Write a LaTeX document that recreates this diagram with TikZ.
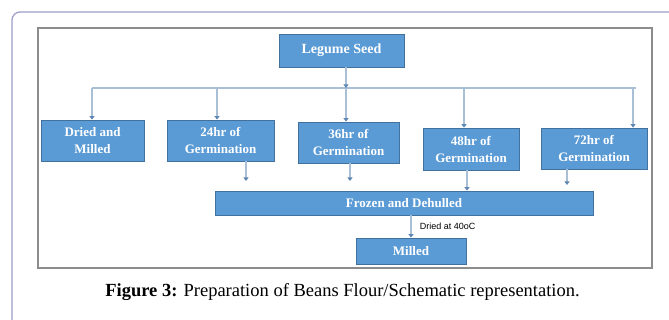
\documentclass[tikz,border=0pt]{standalone}
\usepackage{fontspec}
\setmainfont{Liberation Serif}
\newfontfamily\notefont{Liberation Sans}
\usetikzlibrary{arrows.meta}
\definecolor{boxfill}{HTML}{5B9BD5}
\definecolor{boxline}{HTML}{41719C}
\definecolor{linkline}{HTML}{A9BFD5}
\definecolor{tipcol}{HTML}{5F87B3}
\definecolor{pageframe}{HTML}{9B9BCB}
\definecolor{figframe}{HTML}{8C8C8C}
\tikzset{
  stage/.style={draw=boxline, fill=boxfill, text=white, align=center,
    inner sep=0pt, line width=0.8pt,
    font=\fontsize{13}{17}\selectfont\bfseries},
  link/.style={draw=linkline, line width=1.2pt,
    -{Triangle[width=5pt,length=3.5pt,color=tipcol]}},
  bar/.style={draw=linkline, line width=1.2pt},
}
\begin{document}
\begin{tikzpicture}[x=1pt,y=-1pt]
  \useasboundingbox (0,0) rectangle (669,320);
  \clip (0,0) rectangle (669,320);
  \draw[pageframe, line width=1.2pt, rounded corners=8pt] (12,12) rectangle (700,350);
  \draw[figframe, line width=1.5pt] (38,28) rectangle (652,268);
  \draw
    (341.5,50.5) node[stage, minimum width=125pt, minimum height=33pt,
      font=\fontsize{14}{17}\selectfont\bfseries] (seed){Legume Seed}
    (92.5,140.5) node[stage, minimum width=103pt, minimum height=41pt] (dried){Dried and\\Milled}
    (220.5,140.5) node[stage, minimum width=107pt, minimum height=41pt] (g24){24hr of\\Germination}
    (348.5,142.5) node[stage, minimum width=101pt, minimum height=41pt] (g36){36hr of\\Germination}
    (471,149) node[stage, minimum width=96pt, minimum height=42pt] (g48){48hr of\\Germination}
    (594,148.5) node[stage, minimum width=106pt, minimum height=41pt] (g72){72hr of\\Germination}
    (404,203) node[stage, minimum width=378pt, minimum height=24pt] (frozen){Frozen and Dehulled}
    (411,251) node[stage, minimum width=110pt, minimum height=26pt] (milled){Milled}
    (342.5,292) node[font=\fontsize{18.5}{22}\selectfont] (caption){\textbf{Figure 3:} Preparation of Beans Flour/Schematic representation.};
  \coordinate (bL) at (92,88);
  \coordinate (bR) at (636,88);
  \coordinate (hub) at (346,88);
  \coordinate (d24) at (217,88);
  \coordinate (d48) at (464,88);
  \coordinate (d72) at (633,88);
  \coordinate (u24) at (246,181);
  \coordinate (u36) at (350,181);
  \coordinate (u48) at (467,191);
  \coordinate (u72) at (567,185);
  \begin{scope}
    \draw[bar] (bL) -- (bR);
    \draw[link] (seed.south -| hub) -- (hub);
    \draw[link] (bL) -- (bL |- dried.north);
    \draw[link] (d24) -- (d24 |- g24.north);
    \draw[link] (hub) -- (hub |- g36.north);
    \draw[link] (d48) -- (d48 |- g48.north);
    \draw[link] (d72) -- (d72 |- g72.north);
    \draw[link] (u24 |- g24.south) -- (u24);
    \draw[link] (u36 |- g36.south) -- (u36);
    \draw[link] (u48 |- g48.south) -- (u48 |- frozen.north);
    \draw[link] (u72 |- g72.south) -- (u72);
    \draw[link] (frozen.south -| milled.north) -- (milled.north)
      node[midway, anchor=west, xshift=5pt, font=\notefont\fontsize{9}{11}\selectfont] (dry){Dried at 40oC};
  \end{scope}
\end{tikzpicture}
\end{document}
